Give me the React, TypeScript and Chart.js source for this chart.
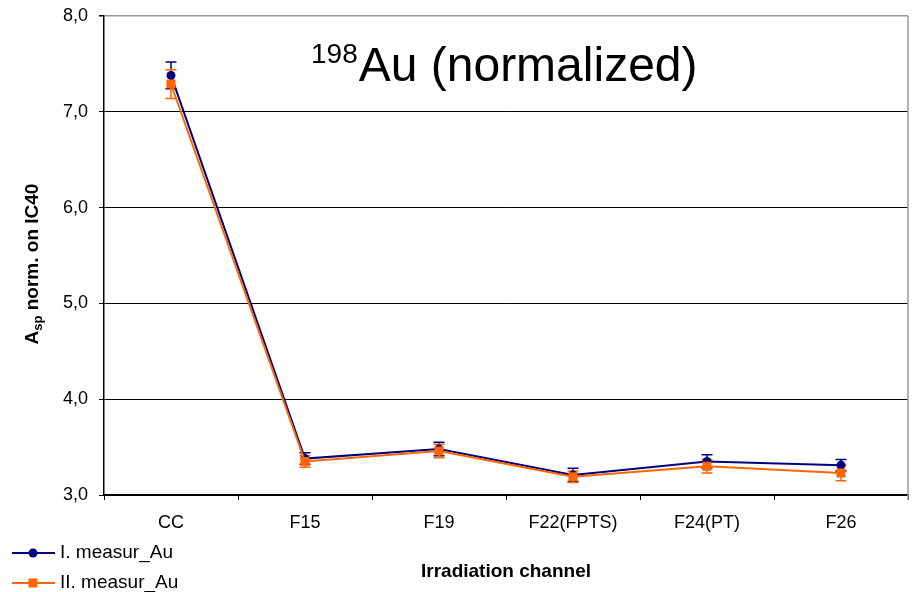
import React, { useEffect, useRef } from "react";
import { Chart, registerables } from "chart.js";

Chart.register(...registerables);

const categories = ["CC", "F15", "F19", "F22(FPTS)", "F24(PT)", "F26"];
const measI = [7.38, 3.38, 3.48, 3.21, 3.35, 3.31];
const errI = [0.14, 0.06, 0.07, 0.07, 0.07, 0.06];
const measII = [7.29, 3.35, 3.46, 3.19, 3.3, 3.23];
const errII = [0.15, 0.06, 0.07, 0.06, 0.07, 0.08];
const seriesNames = ["I. measur_Au", "II. measur_Au"];
const yMin = 3;
const yMax = 8;
const yStep = 1;

const BLUE = "#000080";
const ORANGE = "#FF6600";
const FONT = "'Liberation Sans', Arial, sans-serif";

const overlay = {
  id: "overlay",
  beforeDatasetsDraw(chart: any) {
    const ctx = chart.ctx;
    const xs = chart.scales.x;
    const ys = chart.scales.y;
    const sets = [
      { v: measI, e: errI, c: BLUE },
      { v: measII, e: errII, c: ORANGE },
    ];
    ctx.save();
    for (const s of sets) {
      ctx.strokeStyle = s.c;
      ctx.lineWidth = 1.5;
      s.v.forEach((v, i) => {
        const x = xs.getPixelForValue(i);
        const yt = ys.getPixelForValue(v + s.e[i]);
        const yb = ys.getPixelForValue(v - s.e[i]);
        ctx.beginPath();
        ctx.moveTo(x, yt);
        ctx.lineTo(x, yb);
        ctx.moveTo(x - 5.5, yt);
        ctx.lineTo(x + 5.5, yt);
        ctx.moveTo(x - 5.5, yb);
        ctx.lineTo(x + 5.5, yb);
        ctx.stroke();
      });
    }
    ctx.restore();
  },
  afterDraw(chart: any) {
    const ctx = chart.ctx;
    const a = chart.chartArea;
    ctx.save();
    // gray right border
    ctx.strokeStyle = "#999999";
    ctx.lineWidth = 1.5;
    ctx.beginPath();
    ctx.moveTo(a.right, a.top);
    ctx.lineTo(a.right, a.bottom + 5);
    ctx.stroke();

    // title
    ctx.fillStyle = "#000";
    ctx.textAlign = "left";
    ctx.textBaseline = "alphabetic";
    ctx.font = `28px ${FONT}`;
    ctx.fillText("198", 311, 63);
    const w1 = ctx.measureText("198").width;
    ctx.font = `48px ${FONT}`;
    ctx.fillText("Au (normalized)", 311 + w1 + 1, 81);

    // y axis title
    ctx.save();
    ctx.translate(38, 264);
    ctx.rotate(-Math.PI / 2);
    ctx.font = `bold 19px ${FONT}`;
    const wA = ctx.measureText("A").width;
    const wRest = ctx.measureText(" norm. on IC40").width;
    ctx.font = `bold 13px ${FONT}`;
    const wSp = ctx.measureText("sp").width;
    let x0 = -(wA + wSp + wRest) / 2;
    ctx.font = `bold 19px ${FONT}`;
    ctx.fillText("A", x0, 0);
    ctx.font = `bold 13px ${FONT}`;
    ctx.fillText("sp", x0 + wA, 4);
    ctx.font = `bold 19px ${FONT}`;
    ctx.fillText(" norm. on IC40", x0 + wA + wSp, 0);
    ctx.restore();

    // x axis title
    ctx.font = `bold 19px ${FONT}`;
    ctx.textAlign = "center";
    ctx.fillText("Irradiation channel", 506, 577);

    // legend
    const rows = [
      { y: 553, c: BLUE, shape: "circle", label: seriesNames[0] },
      { y: 583, c: ORANGE, shape: "rect", label: seriesNames[1] },
    ];
    for (const r of rows) {
      ctx.strokeStyle = r.c;
      ctx.fillStyle = r.c;
      ctx.lineWidth = 2;
      ctx.beginPath();
      ctx.moveTo(12, r.y);
      ctx.lineTo(55, r.y);
      ctx.stroke();
      ctx.beginPath();
      if (r.shape === "circle") {
        ctx.arc(33, r.y, 4.5, 0, Math.PI * 2);
        ctx.fill();
      } else {
        ctx.fillRect(28.5, r.y - 4.5, 9, 9);
      }
      ctx.fillStyle = "#000";
      ctx.textAlign = "left";
      ctx.textBaseline = "middle";
      ctx.font = `19px ${FONT}`;
      ctx.fillText(r.label, 60, r.y);
    }
    ctx.restore();
  },
};

export default function App() {
  const ref = useRef<HTMLCanvasElement | null>(null);
  useEffect(() => {
    if (!ref.current) return;
    const chart = new Chart(ref.current, {
      type: "line",
      data: {
        labels: categories,
        datasets: [
          {
            label: seriesNames[0],
            data: measI,
            borderColor: BLUE,
            backgroundColor: BLUE,
            borderWidth: 2,
            pointStyle: "circle",
            pointRadius: 4.5,
            pointBorderWidth: 0,
            tension: 0,
            order: 1,
          },
          {
            label: seriesNames[1],
            data: measII,
            borderColor: ORANGE,
            backgroundColor: ORANGE,
            borderWidth: 2,
            pointStyle: "rect",
            pointRadius: 6.4,
            pointBorderWidth: 0,
            tension: 0,
            order: 0,
          },
        ],
      },
      options: {
        responsive: false,
        animation: false,
        layout: { padding: { top: 16, right: 8, left: 0, bottom: 0 } },
        plugins: {
          legend: { display: false },
          tooltip: { enabled: false },
          title: { display: false },
        },
        scales: {
          x: {
            offset: true,
            grid: {
              offset: true,
              drawOnChartArea: false,
              drawTicks: true,
              tickLength: 5,
              tickColor: "#000",
              lineWidth: 1,
            },
            border: { color: "#000", width: 1.5 },
            ticks: {
              color: "#000",
              font: { family: FONT, size: 18 },
              padding: 12,
              maxRotation: 0,
              autoSkip: false,
            },
            afterFit(scale: any) {
              scale.height = 97;
              scale.paddingLeft = 0;
              scale.paddingRight = 0;
            },
          },
          y: {
            min: yMin,
            max: yMax,
            grid: {
              color: (c: any) => (c.tick && c.tick.value === yMax ? "#999999" : "#000000"),
              lineWidth: (c: any) => (c.tick && c.tick.value === yMax ? 1.5 : 1),
              tickColor: "#000",
              tickLength: 5,
            },
            border: { color: "#000", width: 1.5 },
            ticks: {
              stepSize: yStep,
              color: "#000",
              font: { family: FONT, size: 18 },
              padding: 11,
              callback: (v: any) => Number(v).toFixed(1).replace(".", ","),
            },
            afterFit(scale: any) {
              scale.width = 104;
              scale.paddingTop = 0;
              scale.paddingBottom = 0;
            },
          },
        },
      },
      plugins: [overlay],
    });
    return () => chart.destroy();
  }, []);
  return (
    <div style={{ position: "absolute", left: 0, top: 0, width: 916, height: 592, background: "#fff" }}>
      <canvas ref={ref} width={916} height={592} style={{ width: 916, height: 592 }} />
    </div>
  );
}
